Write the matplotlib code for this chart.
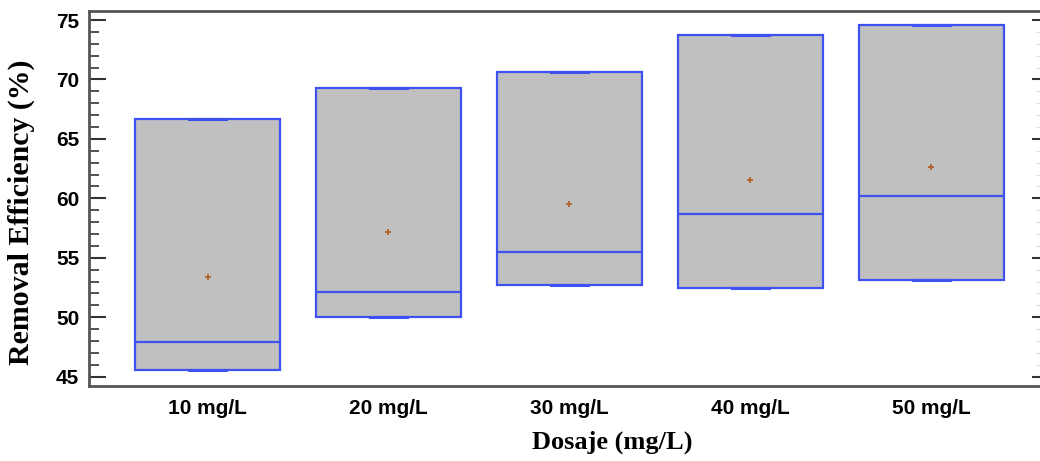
import numpy as np
import matplotlib
matplotlib.use("Agg")
import matplotlib.pyplot as plt
from matplotlib.ticker import MultipleLocator

# datos
dosajes = ["10 mg/L", "20 mg/L", "30 mg/L", "40 mg/L", "50 mg/L"]
q1 = [45.55, 50.0, 52.75, 52.45, 53.15]
mediana = [47.95, 52.1, 55.5, 58.65, 60.2]
q3 = [66.65, 69.3, 70.65, 73.75, 74.6]
media = [53.35, 57.15, 59.55, 61.55, 62.65]

edge_col = "#3f51f0"
fill_col = "#c0c0c0"
mean_col = "#b0622a"
spine_col = "#555555"

fig = plt.figure(figsize=(10.4, 4.61), dpi=100)
ax = fig.add_axes([89 / 1040, 1 - 386 / 461, 1 - 89 / 1040, (386 - 11) / 461])

stats = []
for i in range(len(dosajes)):
    stats.append(dict(label=dosajes[i], q1=q1[i], med=mediana[i], q3=q3[i],
                      mean=media[i], whislo=q1[i], whishi=q3[i], fliers=[]))

pos = np.arange(1, len(dosajes) + 1)
ax.bxp(stats, positions=pos, widths=0.8, patch_artist=True, showmeans=True,
       capwidths=0.2,
       boxprops=dict(facecolor=fill_col, edgecolor=edge_col, linewidth=1.6),
       medianprops=dict(color=edge_col, linewidth=1.6),
       whiskerprops=dict(color=edge_col, linewidth=1.6),
       capprops=dict(color=edge_col, linewidth=2.2),
       meanprops=dict(marker="+", markeredgecolor=mean_col, markersize=5,
                      markeredgewidth=1.3))

ax.set_xlim(1 - (207.5 - 89) / 181, 5 + (1040 - 931.5) / 181)
ax.set_ylim(45 - 9.3 / 11.89, 75 + 9 / 11.89)

ax.yaxis.set_major_locator(MultipleLocator(5))
ax.yaxis.set_minor_locator(MultipleLocator(1))
ax.tick_params(axis="y", which="major", direction="in", length=12, width=1.5,
               color="#333333", pad=7, labelsize=15)
ax.tick_params(axis="y", which="minor", direction="in", length=7, width=1.2,
               color="#333333")
ax.tick_params(axis="x", length=0, pad=9, labelsize=15)
for lab in ax.get_yticklabels() + ax.get_xticklabels():
    lab.set_fontweight("bold")
    lab.set_family(["Liberation Sans", "DejaVu Sans"])

for s in ["left", "bottom", "top"]:
    ax.spines[s].set_color(spine_col)
    ax.spines[s].set_linewidth(2)
ax.spines["right"].set_visible(False)

# ticks del lado derecho
ax2 = ax.twinx()
ax2.set_ylim(ax.get_ylim())
ax2.yaxis.set_major_locator(MultipleLocator(5))
ax2.yaxis.set_minor_locator(MultipleLocator(1))
ax2.tick_params(axis="y", which="major", direction="in", length=6, width=1.5,
                color="#333333", labelright=False)
ax2.tick_params(axis="y", which="minor", direction="in", length=3, width=0.8,
                color="#dddddd")
for s in ax2.spines.values():
    s.set_visible(False)

ax.set_ylabel("Removal Efficiency (%)", fontsize=21.5, fontweight="bold",
              family=["Liberation Serif", "DejaVu Serif"])
ax.yaxis.set_label_coords((35 - 89) / 951, 0.464)
ax.set_xlabel("Dosaje (mg/L)", fontsize=19, fontweight="bold",
              family=["Liberation Serif", "DejaVu Serif"])
ax.xaxis.set_label_coords((612 - 89) / 951, -0.12)

fig.savefig("out.png", dpi=100)
